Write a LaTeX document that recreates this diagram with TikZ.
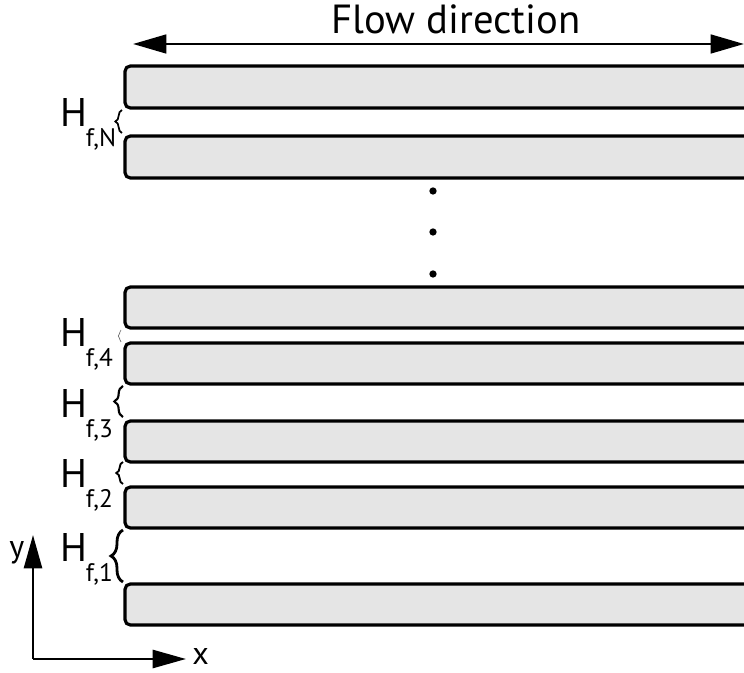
\documentclass[tikz,border=0pt]{standalone}
\usepackage{fontspec}
\setmainfont{PT Sans}
\usetikzlibrary{arrows.meta,decorations.pathreplacing}

\newcommand{\gapname}[1]{H\kern-1pt\raisebox{-15pt}{\fontsize{19}{19}\selectfont #1}}

\begin{document}
\begin{tikzpicture}[
    x=0.75pt, y=-0.75pt,
    plate/.style = {draw=black, fill=black!10, line width=2.4pt, rounded corners=4pt},
    flow/.style = {{Triangle[length=25pt,width=14pt]}-{Triangle[length=25pt,width=14pt]}, line width=2pt},
    axis/.style = {-{Triangle[length=25pt,width=13.5pt]}, line width=2pt},
    gap/.style = {decorate, decoration={brace, amplitude=#1}},
    gaplabel/.style = {anchor=base west, inner sep=0pt, font=\fontsize{30}{30}\selectfont},
    axislabel/.style = {anchor=base west, inner sep=0pt, font=\fontsize{24}{24}\selectfont},
    dot/.style = {circle, fill=black, inner sep=0pt, minimum size=5.5pt}
    ]
    \useasboundingbox (0,0) rectangle (744,673);

    \node[anchor=base, inner sep=0pt, font=\fontsize{30.5}{30.5}\selectfont] (flow) at (456,34) {Flow direction};
    \coordinate (flowL) at (133,44);
    \coordinate (flowR) at (744,44);
    \draw[flow] (flowL) -- (flowR);

    \foreach \ya/\yb in {66/108, 136/178, 287/328, 343/384, 421/462, 487/528, 584/625}
        \filldraw[plate] (770,\ya) -| (125,\yb) -- (770,\yb);

    \foreach \yd [count=\i] in {191, 232, 274}
        \node[dot] (dot\i) at (433,\yd) {};

    \draw[gap=5pt, line width=1.3pt] (122,133) -- (122,110);
    \draw[gap=2pt, line width=0.5pt, draw=black!60] (121,342) -- (121,330);
    \draw[gap=6.5pt, line width=1.6pt] (123,417) -- (123,386);
    \draw[gap=5pt, line width=1.4pt] (123,484) -- (123,462);
    \draw[gap=9pt, line width=2.1pt] (123,582) -- (123,530);

    \node[gaplabel] (hN) at (60,127) {\gapname{f,N}};
    \node[gaplabel] (h4) at (60,347) {\gapname{f,4}};
    \node[gaplabel] (h3) at (60,418) {\gapname{f,3}};
    \node[gaplabel] (h2) at (60,488) {\gapname{f,2}};
    \node[gaplabel] (h1) at (60,562) {\gapname{f,1}};

    \coordinate (origin) at (33,659);
    \coordinate (xend) at (186,659);
    \coordinate (yend) at (33,535);
    \draw[axis] (origin) -- (xend);
    \draw[axis] (origin) -- (yend);
    \node[axislabel] (xlab) at (192,665) {x};
    \node[axislabel] (ylab) at (9,558) {y};
\end{tikzpicture}
\end{document}
